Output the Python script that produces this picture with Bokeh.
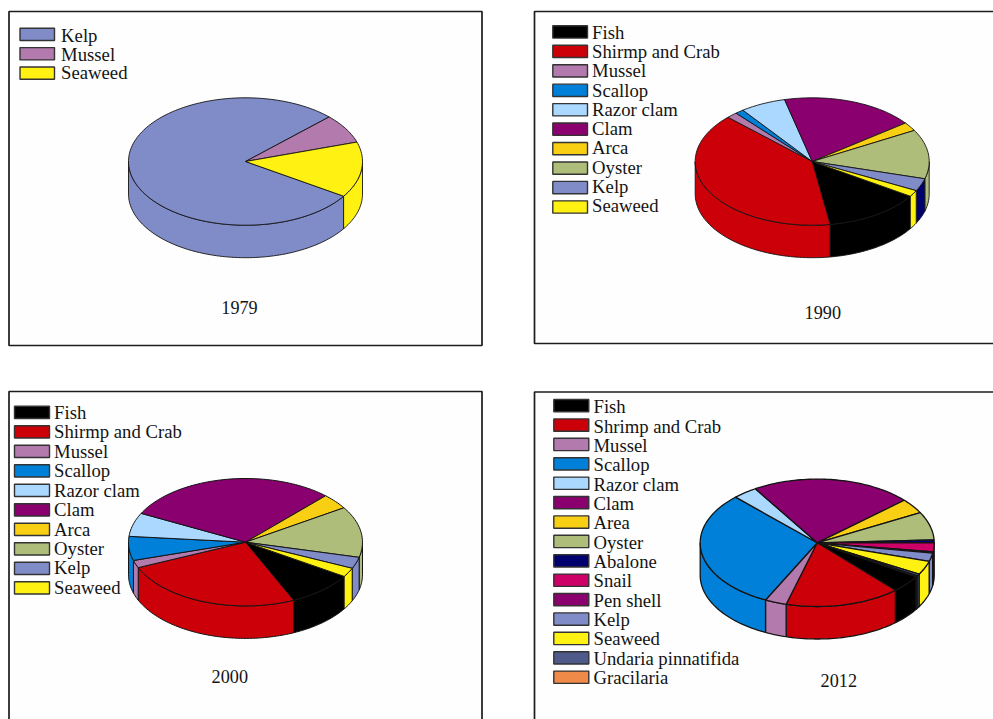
import numpy as np
from bokeh.embed import file_html
from bokeh.models import ColumnDataSource, Range1d
from bokeh.plotting import figure
from bokeh.resources import INLINE
from bokeh.core.properties import value

# ---- data: share of each group (%), clockwise from the first legend entry
years = ["1979", "1990", "2000", "2012"]

names_1979 = ["Kelp", "Mussel", "Seaweed"]
share_1979 = [78.5, 7.4, 14.1]

names_1990 = ["Fish", "Shirmp and Crab", "Mussel", "Scallop", "Razor clam", "Clam",
              "Arca", "Oyster", "Kelp", "Seaweed"]
share_1990 = [13.4, 39.7, 1.5, 1.2, 6.3, 18.5, 2.2, 12.5, 3.2, 1.6]

names_2000 = ["Fish", "Shirmp and Crab", "Mussel", "Scallop", "Razor clam", "Clam",
              "Arca", "Oyster", "Kelp", "Seaweed"]
share_2000 = [9.2, 25.2, 1.9, 6.1, 6.0, 29.5, 3.9, 12.9, 2.9, 2.3]

names_2012 = ["Fish", "Shrimp and Crab", "Mussel", "Scallop", "Razor clam", "Clam",
              "Area", "Oyster", "Abalone", "Snail", "Pen shell", "Kelp", "Seaweed",
              "Undaria pinnatifida", "Gracilaria"]
share_2012 = [4.4, 15.9, 3.0, 30.4, 3.4, 22.2, 3.8, 7.1, 0.7, 2.3, 0.3, 2.1, 3.5, 0.5, 0.25]

# ---- styles
COL = {
    "Fish": "#000000", "Shirmp and Crab": "#cc0008", "Shrimp and Crab": "#cc0008",
    "Mussel": "#b37aad", "Scallop": "#0080d8", "Razor clam": "#aad8ff", "Clam": "#8a006e",
    "Arca": "#f9cf14", "Area": "#f9cf14", "Oyster": "#aebd7a", "Abalone": "#00006e",
    "Snail": "#cc0066", "Pen shell": "#8a006e", "Kelp": "#7f8cc8", "Seaweed": "#fff212",
    "Undaria pinnatifida": "#4e5a8a", "Gracilaria": "#f08a48",
}
INK = "#141414"
FONT = "Liberation Serif"

# ---- layout, in page pixels
PANELS = [
    dict(box=(8.5, 481.5, 11, 345), cx=245.0, cy=161.0, start=-33.0, names=names_1979, vals=share_1979,
         sw=(19.5, 54.0, 27.7), pitch=19.4, tx=60.6, tb=35.3, tp=18.3, lab=(239, 306.6), wall={}, lw=0.9),
    dict(box=(534, 1010, 11, 343), cx=811.7, cy=161.0, start=-33.0, names=names_1990, vals=share_1990,
         sw=(552.3, 587.0, 25.3), pitch=19.45, tx=591.6, tb=31.9, tp=19.26, lab=(822.3, 311.9),
         wall={"Kelp": "#00006e"}, lw=0.9),
    dict(box=(8.5, 481.5, 391, 740), cx=245.0, cy=541.7, start=-32.5, names=names_2000, vals=share_2000,
         sw=(14.0, 49.0, 405.7), pitch=19.5, tx=53.6, tb=411.9, tp=19.44, lab=(229.3, 676.3), wall={}, lw=1.0),
    dict(box=(534, 1010, 391.5, 740), cx=816.7, cy=542.3, start=-32.2, names=names_2012, vals=share_2012,
         sw=(553.3, 588.3, 399.0), pitch=19.4, tx=593.0, tb=406.3, tp=19.33, lab=(838.3, 680.3), wall={}, lw=1.3),
]
RX, RY, DEPTH = 117.0, 63.7, 32.5
SW_H = 12.3

p = figure(width=993, height=719, output_backend="svg", toolbar_location=None,
           x_range=Range1d(0, 993), y_range=Range1d(719, 0), min_border=0,
           outline_line_color=None, background_fill_color="white", border_fill_color="white")
p.xaxis.visible = False
p.yaxis.visible = False
p.grid.visible = False


def arc(cx, cy, a1, a2, dy=0.0):
    n = max(2, int(abs(a1 - a2) / 1.5) + 2)
    t = np.radians(np.linspace(a1, a2, n))
    return cx + RX * np.cos(t), cy - RY * np.sin(t) + dy


for i, P in enumerate(PANELS):
    l, r, t, b = P["box"]
    p.quad(left=[l], right=[r], top=[t], bottom=[b], fill_color="#fefefe",
           line_color="#1c1c1c", line_width=1.7)

    vals = np.array(P["vals"], dtype=float)
    sweep = vals / vals.sum() * 360.0
    edges = P["start"] - np.concatenate([[0.0], np.cumsum(sweep)])
    cx, cy = P["cx"], P["cy"]

    # side wall: only the part of each slice facing the viewer
    wx, wy, wc = [], [], []
    for k, name in enumerate(P["names"]):
        a1, a2 = edges[k], edges[k + 1]
        for hi, lo in ((0.0, -180.0), (-360.0, -540.0)):
            s, e = min(a1, hi), max(a2, lo)
            if s > e:
                xs, ys = arc(cx, cy, s, e)
                xb, yb = arc(cx, cy, e, s, DEPTH)
                wx.append(np.concatenate([xs, xb]).tolist())
                wy.append(np.concatenate([ys, yb]).tolist())
                wc.append(P["wall"].get(name, COL[name]))
    p.patches("x", "y", source=ColumnDataSource(dict(x=wx, y=wy, c=wc)), fill_color="c",
              line_color=INK, line_width=P["lw"])

    # top face
    tx, ty, tc = [], [], []
    for k, name in enumerate(P["names"]):
        xs, ys = arc(cx, cy, edges[k], edges[k + 1])
        tx.append([cx] + xs.tolist())
        ty.append([cy] + ys.tolist())
        tc.append(COL[name])
    p.patches("x", "y", source=ColumnDataSource(dict(x=tx, y=ty, c=tc)), fill_color="c",
              line_color=INK, line_width=P["lw"])

    # legend
    x0, x1, y0 = P["sw"]
    n = len(P["names"])
    tops = [y0 + j * P["pitch"] for j in range(n)]
    p.quad(left=[x0] * n, right=[x1] * n, top=tops,
           bottom=[v + SW_H for v in tops], fill_color=[COL[m] for m in P["names"]],
           line_color="#333333", line_width=1.4)
    p.text(x=[P["tx"]] * n, y=[P["tb"] + j * P["tp"] for j in range(n)], text=P["names"],
           text_font=value(FONT), text_font_size="18.7px", text_color=INK,
           text_align="left", text_baseline="alphabetic")

    # year label
    p.text(x=[P["lab"][0]], y=[P["lab"][1]], text=[years[i]], text_font=value(FONT),
           text_font_size="18.2px", text_color=INK, text_align="center",
           text_baseline="alphabetic")

open("out.html", "w").write(file_html(p, INLINE))
